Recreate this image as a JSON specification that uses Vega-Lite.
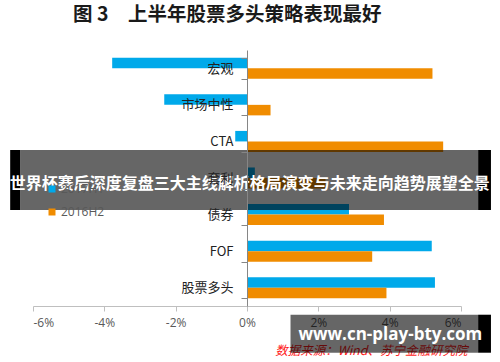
{
  "$schema": "https://vega.github.io/schema/vega-lite/v6.json",
  "width": 428,
  "height": 256,
  "autosize": {"type": "none"},
  "padding": {"left": 33, "top": 50, "right": 39, "bottom": 56},
  "background": "white",
  "title": {
    "text": "图 3\u3000上半年股票多头策略表现最好",
    "anchor": "start",
    "frame": "group",
    "dx": 40,
    "offset": 0,
    "baseline": "bottom",
    "font": "Noto Sans CJK SC",
    "fontSize": 19.5,
    "fontWeight": "bold",
    "color": "#1a1a1a"
  },
  "config": {
    "view": {"stroke": null},
    "font": "Noto Sans CJK SC"
  },
  "layer": [
    {
      "data": {
        "values": [
          {"category": "宏观", "series": "2017H1", "value": -3.78},
          {"category": "宏观", "series": "2016H2", "value": 5.2},
          {"category": "市场中性", "series": "2017H1", "value": -2.32},
          {"category": "市场中性", "series": "2016H2", "value": 0.66},
          {"category": "CTA", "series": "2017H1", "value": -0.33},
          {"category": "CTA", "series": "2016H2", "value": 5.5},
          {"category": "套利", "series": "2017H1", "value": 0.22},
          {"category": "套利", "series": "2016H2", "value": 2.2},
          {"category": "债券", "series": "2017H1", "value": 2.86},
          {"category": "债券", "series": "2016H2", "value": 3.84},
          {"category": "FOF", "series": "2017H1", "value": 5.18},
          {"category": "FOF", "series": "2016H2", "value": 3.51},
          {"category": "股票多头", "series": "2017H1", "value": 5.27},
          {"category": "股票多头", "series": "2016H2", "value": 3.91}
        ]
      },
      "mark": {"type": "bar"},
      "encoding": {
        "y": {
          "field": "category",
          "type": "nominal",
          "sort": ["宏观", "市场中性", "CTA", "套利", "债券", "FOF", "股票多头"],
          "scale": {"paddingInner": 0.425, "paddingOuter": 0.2125},
          "axis": {
            "title": null,
            "offset": -214,
            "zindex": 1,
            "tickBand": "extent",
            "domainColor": "#868686",
            "tickColor": "#868686",
            "tickSize": 6,
            "labelPadding": 8,
            "labelFont": "Noto Sans CJK SC",
            "labelFontSize": 13,
            "labelColor": "#222222"
          }
        },
        "yOffset": {
          "field": "series",
          "type": "nominal",
          "sort": ["2017H1", "2016H2"],
          "scale": {"paddingInner": 0, "paddingOuter": 0}
        },
        "x": {
          "field": "value",
          "type": "quantitative",
          "scale": {"domain": [-6, 6], "nice": false},
          "axis": {
            "values": [-6, -4, -2, 0, 2, 4, 6],
            "labelExpr": "datum.value + '%'",
            "grid": false,
            "domainColor": "#bfbfbf",
            "tickColor": "#bfbfbf",
            "tickSize": 5,
            "labelPadding": 6,
            "labelFont": "Open Sans",
            "labelFontSize": 12,
            "labelColor": "#595959",
            "title": "数据来源：Wind、苏宁金融研究院",
            "titleColor": "#ff1a1a",
            "titleFont": "Noto Sans CJK SC",
            "titleFontSize": 12.5,
            "titleFontStyle": "italic",
            "titleFontWeight": "normal",
            "titleAnchor": "end",
            "titleAlign": "right",
            "titleBaseline": "middle",
            "titleX": 434,
            "titleY": 44
          }
        },
        "color": {
          "field": "series",
          "type": "nominal",
          "scale": {"domain": ["2017H1", "2016H2"], "range": ["#00a9ea", "#f08c00"]},
          "legend": {
            "title": null,
            "orient": "none",
            "legendX": 13,
            "legendY": 133,
            "symbolType": "square",
            "symbolSize": 49,
            "symbolStrokeWidth": 0,
            "labelOffset": 3,
            "rowPadding": 11,
            "labelFont": "Open Sans",
            "labelFontSize": 12,
            "labelColor": "#595959"
          }
        }
      }
    },
    {
      "data": {"values": [{"a": -6.36, "b": 6.48}]},
      "mark": {"type": "bar", "color": "#000000", "opacity": 0.6, "height": 60, "yOffset": 2},
      "encoding": {
        "y": {"datum": "套利", "type": "nominal"},
        "x": {"field": "a", "type": "quantitative"},
        "x2": {"field": "b"}
      }
    },
    {
      "data": {"values": [{"a": -6.64, "b": -6.36}, {"a": 6.48, "b": 6.84}]},
      "mark": {"type": "bar", "color": "#000000", "height": 60, "yOffset": 2},
      "encoding": {
        "y": {"datum": "套利", "type": "nominal"},
        "x": {"field": "a", "type": "quantitative"},
        "x2": {"field": "b"}
      }
    },
    {
      "data": {"values": [{"label": "世界杯赛后深度复盘三大主线解析格局演变与未来走向趋势展望全景", "a": 0.08}]},
      "mark": {"type": "text", "color": "white", "font": "Noto Sans CJK SC", "fontWeight": "bold", "fontSize": 16, "align": "center", "baseline": "middle", "yOffset": 6},
      "encoding": {
        "y": {"datum": "套利", "type": "nominal"},
        "x": {"field": "a", "type": "quantitative"},
        "text": {"field": "label"}
      }
    },
    {
      "data": {"values": [{"a": 1.22, "b": 6.48}]},
      "mark": {"type": "bar", "color": "#000000", "opacity": 0.6, "height": 38, "yOffset": 46},
      "encoding": {
        "y": {"datum": "股票多头", "type": "nominal"},
        "x": {"field": "a", "type": "quantitative"},
        "x2": {"field": "b"}
      }
    },
    {
      "data": {"values": [{"a": 6.48, "b": 6.84}]},
      "mark": {"type": "bar", "color": "#000000", "height": 38, "yOffset": 46},
      "encoding": {
        "y": {"datum": "股票多头", "type": "nominal"},
        "x": {"field": "a", "type": "quantitative"},
        "x2": {"field": "b"}
      }
    },
    {
      "data": {"values": [{"label": "www.cn-play-bty.com", "a": 4.02}]},
      "mark": {"type": "text", "color": "white", "font": "Open Sans", "fontWeight": "bold", "fontSize": 17, "align": "center", "baseline": "middle", "yOffset": 47},
      "encoding": {
        "y": {"datum": "股票多头", "type": "nominal"},
        "x": {"field": "a", "type": "quantitative"},
        "text": {"field": "label"}
      }
    }
  ]
}
